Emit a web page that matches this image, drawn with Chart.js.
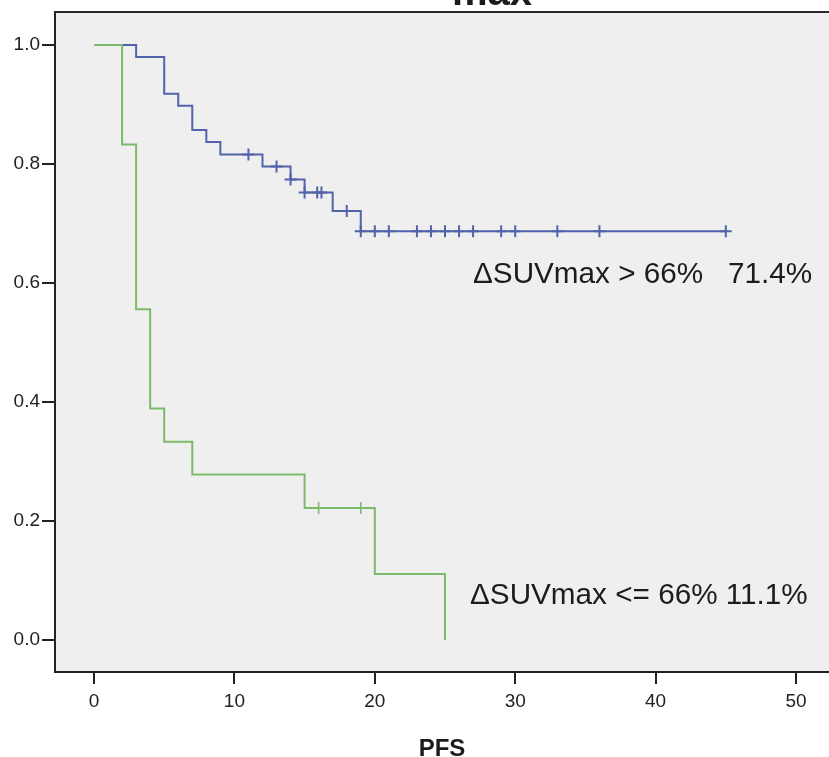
<!DOCTYPE html>
<html>
<head>
<meta charset="UTF-8">
<script src="https://cdn.jsdelivr.net/npm/chart.js@4"></script>
<style>
    html, body { margin: 0; padding: 0; background: #fff; overflow: hidden; }
    #wrap { width: 829px; height: 757px; }
</style>
</head>
<body>
<div id="wrap"><canvas id="kmChart" width="829" height="757"></canvas></div>
<script>
// PFS survival curves by SUVmax change

var xTicks = [0, 10, 20, 30, 40, 50];
var yTicks = [0, 0.2, 0.4, 0.6, 0.8, 1.0];

// > 66% group
var highTimes = [0, 3, 5, 6, 7, 8, 9, 12, 14, 15, 17, 19, 45];
var highSurv = [1, 0.98, 0.918, 0.898, 0.857, 0.837, 0.816, 0.796, 0.774, 0.752, 0.721, 0.687, 0.687];
var highCensored = [11, 13, 14, 15, 15.9, 16.2, 18, 19, 20, 21, 23, 24, 25, 26, 27, 29, 30, 33, 36, 45];

// <= 66% group
var lowTimes = [0, 2, 3, 4, 5, 7, 15, 20, 25];
var lowSurv = [1, 0.833, 0.556, 0.389, 0.333, 0.278, 0.222, 0.111, 0];
var lowCensored = [16, 19];

var groupLabels = ['ΔSUVmax > 66%   71.4%', 'ΔSUVmax <= 66% 11.1%'];

var blue = '#5263a9';
var green = '#7aba68';

function stepPoints(times, surv) {
    return times.map((t, i) => ({ x: t, y: surv[i] }));
}

// level of the step curve at time t
function survAt(times, surv, t) {
    var s = surv[0];
    for (var i = 0; i < times.length; i++) {
        if (times[i] <= t) s = surv[i];
    }
    return s;
}

function censorPoints(times, surv, cens) {
    return cens.map(t => ({ x: t, y: survAt(times, surv, t) }));
}

var panelPlugin = {
    id: 'panel',
    beforeDraw(chart) {
        var a = chart.chartArea, ctx = chart.ctx;
        ctx.save();
        ctx.fillStyle = '#efefef';
        ctx.fillRect(a.left, a.top, a.right - a.left, a.bottom - a.top);
        ctx.restore();
    },
    afterDraw(chart) {
        var a = chart.chartArea, ctx = chart.ctx;
        ctx.save();
        ctx.strokeStyle = '#2a2a2a';
        ctx.lineWidth = 2;
        ctx.beginPath();
        ctx.moveTo(a.left - 1, a.top);
        ctx.lineTo(a.right, a.top);
        ctx.stroke();

        ctx.fillStyle = '#1c1c1c';
        ctx.textBaseline = 'alphabetic';
        ctx.textAlign = 'left';
        ctx.font = '29.7px "Liberation Sans", Arial, sans-serif';
        ctx.fillText(groupLabels[0], 473, 283);
        ctx.fillText(groupLabels[1], 470, 604);

        ctx.textAlign = 'center';
        ctx.font = 'bold 40px "Liberation Sans", Arial, sans-serif';
        ctx.fillText('max', 492, 5);

        ctx.font = 'bold 24px "Liberation Sans", Arial, sans-serif';
        ctx.fillText('PFS', 442, 756);
        ctx.restore();
    }
};

var ctx = document.getElementById('kmChart').getContext('2d');
var kmChart = new Chart(ctx, {
    type: 'scatter',
    data: {
        datasets: [{
            label: 'low',
            data: stepPoints(lowTimes, lowSurv),
            showLine: true,
            stepped: true,
            borderColor: green,
            borderWidth: 2,
            pointRadius: 0
        }, {
            label: 'low censored',
            data: censorPoints(lowTimes, lowSurv, lowCensored),
            pointStyle: 'cross',
            pointRadius: 6,
            borderColor: green,
            borderWidth: 1.5
        }, {
            label: 'high',
            data: stepPoints(highTimes, highSurv),
            showLine: true,
            stepped: true,
            borderColor: blue,
            borderWidth: 2,
            pointRadius: 0
        }, {
            label: 'high censored',
            data: censorPoints(highTimes, highSurv, highCensored),
            pointStyle: 'cross',
            pointRadius: 6,
            borderColor: blue,
            borderWidth: 2
        }]
    },
    options: {
        responsive: false,
        animation: false,
        events: [],
        layout: { autoPadding: false, padding: { top: 12, left: 0, right: 0, bottom: 0 } },
        plugins: {
            legend: { display: false },
            tooltip: { enabled: false }
        },
        scales: {
            x: {
                type: 'linear',
                min: -2.778,
                max: 52.35,
                afterBuildTicks: s => { s.ticks = xTicks.map(v => ({ value: v })); },
                afterFit: s => { s.height = 85; s.paddingLeft = 0; s.paddingRight = 0; },
                grid: { drawOnChartArea: false, drawTicks: true, tickLength: 12, color: '#222', lineWidth: 2 },
                border: { display: true, color: '#222', width: 2 },
                ticks: {
                    padding: 6,
                    color: '#222',
                    font: { family: '"Liberation Sans", Arial, sans-serif', size: 19 }
                }
            },
            y: {
                type: 'linear',
                min: -0.0538,
                max: 1.0555,
                afterBuildTicks: s => { s.ticks = yTicks.map(v => ({ value: v })); },
                afterFit: s => { s.width = 55; s.paddingTop = 0; s.paddingBottom = 0; },
                grid: { drawOnChartArea: false, drawTicks: true, tickLength: 13, color: '#222', lineWidth: 2 },
                border: { display: true, color: '#222', width: 2 },
                ticks: {
                    padding: 2,
                    color: '#222',
                    callback: v => v.toFixed(1),
                    font: { family: '"Liberation Sans", Arial, sans-serif', size: 19 }
                }
            }
        }
    },
    plugins: [panelPlugin]
});
</script>
</body>
</html>
